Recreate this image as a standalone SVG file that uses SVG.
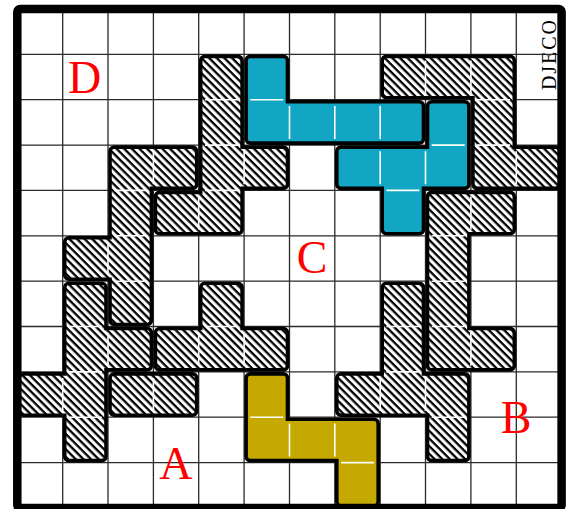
<svg xmlns="http://www.w3.org/2000/svg" xmlns:xlink="http://www.w3.org/1999/xlink" width="573" height="509" viewBox="0 0 573 509">
<style>
.grid{fill:none;stroke:#2a2a2a;stroke-width:1.3}
.wgrid{fill:none;stroke:#fff;stroke-width:1.6}
.edge{fill:#000;stroke:#000;stroke-width:12;stroke-linejoin:round}
.hatch{fill:url(#hatch);stroke:url(#hatch);stroke-width:4.8;stroke-linejoin:round}
.teal{fill:#12a6c4;stroke:#12a6c4;stroke-width:4.8;stroke-linejoin:round}
.gold{fill:#c5a800;stroke:#c5a800;stroke-width:4.8;stroke-linejoin:round}
.lbl{font-family:"Liberation Serif","Times New Roman",serif;font-size:46px;fill:#f00;text-anchor:middle}
.brand{font-family:"Liberation Serif","Times New Roman",serif;font-size:20px;fill:#000}
</style>
<defs>
<pattern id="hatch" width="5.4" height="5.4" patternUnits="userSpaceOnUse" patternTransform="rotate(45)">
<rect width="5.4" height="5.4" fill="#fff"/>
<rect width="5.4" height="2.3" fill="#000"/>
</pattern>
<path id="gridlines" d="M62.7 9V508M108 9V508M153.4 9V508M198.7 9V508M244.1 9V508M289.5 9V508M334.8 9V508M380.2 9V508M425.5 9V508M470.9 9V508M516.3 9V508M17.3 54.4H561.6M17.3 99.7H561.6M17.3 145.1H561.6M17.3 190.4H561.6M17.3 235.8H561.6M17.3 281.2H561.6M17.3 326.5H561.6M17.3 371.9H561.6M17.3 417.2H561.6M17.3 462.6H561.6"/>
<path id="s1" d="M204.9 60.6H237.9V151.3H283.3V184.2H237.9V229.6H159.6V196.6H204.9Z"/>
<path id="s2" d="M114.2 151.3H192.5V184.2H147.2V320.3H114.2V275H68.9V242H114.2Z"/>
<path id="s3" d="M68.9 287.4H101.8V332.7H147.2V365.7H101.8V456.4H68.9V411H23.5V378.1H68.9Z"/>
<path id="s4" d="M114.2 378.1H192.5V411H114.2Z"/>
<path id="s5" d="M204.9 287.4H237.9V332.7H283.3V365.7H159.6V332.7H204.9Z"/>
<path id="s6" d="M386.4 60.6H510.1V151.3H555.4V184.2H477.1V93.5H386.4Z"/>
<path id="s7" d="M431.7 196.6H510.1V229.6H464.7V332.7H510.1V365.7H431.7Z"/>
<path id="s8" d="M386.4 287.4H419.3V378.1H464.7V456.4H431.7V411H341V378.1H386.4Z"/>
<path id="t1" d="M250.3 60.6H283.3V105.9H419.3V138.9H250.3Z"/>
<path id="t2" d="M431.7 105.9H464.7V184.2H419.3V229.6H386.4V184.2H341V151.3H431.7Z"/>
<path id="g1" d="M250.3 378.1H283.3V423.4H374V501.8H341V456.4H250.3Z"/>
<clipPath id="c1"><use xlink:href="#s1"/></clipPath>
<clipPath id="c2"><use xlink:href="#s2"/></clipPath>
<clipPath id="c3"><use xlink:href="#s3"/></clipPath>
<clipPath id="c4"><use xlink:href="#s4"/></clipPath>
<clipPath id="c5"><use xlink:href="#s5"/></clipPath>
<clipPath id="c6"><use xlink:href="#s6"/></clipPath>
<clipPath id="c7"><use xlink:href="#s7"/></clipPath>
<clipPath id="c8"><use xlink:href="#s8"/></clipPath>
<clipPath id="ct1"><use xlink:href="#t1"/></clipPath>
<clipPath id="ct2"><use xlink:href="#t2"/></clipPath>
<clipPath id="cg1"><use xlink:href="#g1"/></clipPath>
</defs>
<rect width="573" height="509" fill="#fff"/>
<g id="board-grid">
<use xlink:href="#gridlines" class="grid"/>
</g>
<g id="piece-hatch-1"><use xlink:href="#s1" class="edge"/><use xlink:href="#s1" class="hatch"/><use xlink:href="#gridlines" class="wgrid" clip-path="url(#c1)"/></g>
<g id="piece-hatch-2"><use xlink:href="#s2" class="edge"/><use xlink:href="#s2" class="hatch"/><use xlink:href="#gridlines" class="wgrid" clip-path="url(#c2)"/></g>
<g id="piece-hatch-3"><use xlink:href="#s3" class="edge"/><use xlink:href="#s3" class="hatch"/><use xlink:href="#gridlines" class="wgrid" clip-path="url(#c3)"/></g>
<g id="piece-hatch-4"><use xlink:href="#s4" class="edge"/><use xlink:href="#s4" class="hatch"/><use xlink:href="#gridlines" class="wgrid" clip-path="url(#c4)"/></g>
<g id="piece-hatch-5"><use xlink:href="#s5" class="edge"/><use xlink:href="#s5" class="hatch"/><use xlink:href="#gridlines" class="wgrid" clip-path="url(#c5)"/></g>
<g id="piece-hatch-6"><use xlink:href="#s6" class="edge"/><use xlink:href="#s6" class="hatch"/><use xlink:href="#gridlines" class="wgrid" clip-path="url(#c6)"/></g>
<g id="piece-hatch-7"><use xlink:href="#s7" class="edge"/><use xlink:href="#s7" class="hatch"/><use xlink:href="#gridlines" class="wgrid" clip-path="url(#c7)"/></g>
<g id="piece-hatch-8"><use xlink:href="#s8" class="edge"/><use xlink:href="#s8" class="hatch"/><use xlink:href="#gridlines" class="wgrid" clip-path="url(#c8)"/></g>
<g id="piece-teal-1"><use xlink:href="#t1" class="edge"/><use xlink:href="#t1" class="teal"/><use xlink:href="#gridlines" class="wgrid" clip-path="url(#ct1)"/></g>
<g id="piece-teal-2"><use xlink:href="#t2" class="edge"/><use xlink:href="#t2" class="teal"/><use xlink:href="#gridlines" class="wgrid" clip-path="url(#ct2)"/></g>
<g id="piece-gold"><use xlink:href="#g1" class="edge"/><use xlink:href="#g1" class="gold"/><use xlink:href="#gridlines" class="wgrid" clip-path="url(#cg1)"/></g>
<g id="connectors"></g>
<g id="labels">
<text class="lbl" x="84.5" y="93.3">D</text>
<text class="lbl" x="312" y="272.5">C</text>
<text class="lbl" x="175.8" y="479.3">A</text>
<text class="lbl" x="516" y="432.8">B</text>
<text class="brand" transform="translate(555.5,90) rotate(-90)" x="0" y="0" textLength="70" lengthAdjust="spacing">DJECO</text>
</g>
<g id="board-frame">
<rect x="17.3" y="9" width="544.3" height="499" rx="3" fill="none" stroke="#000" stroke-width="8.5"/>
</g>
</svg>
